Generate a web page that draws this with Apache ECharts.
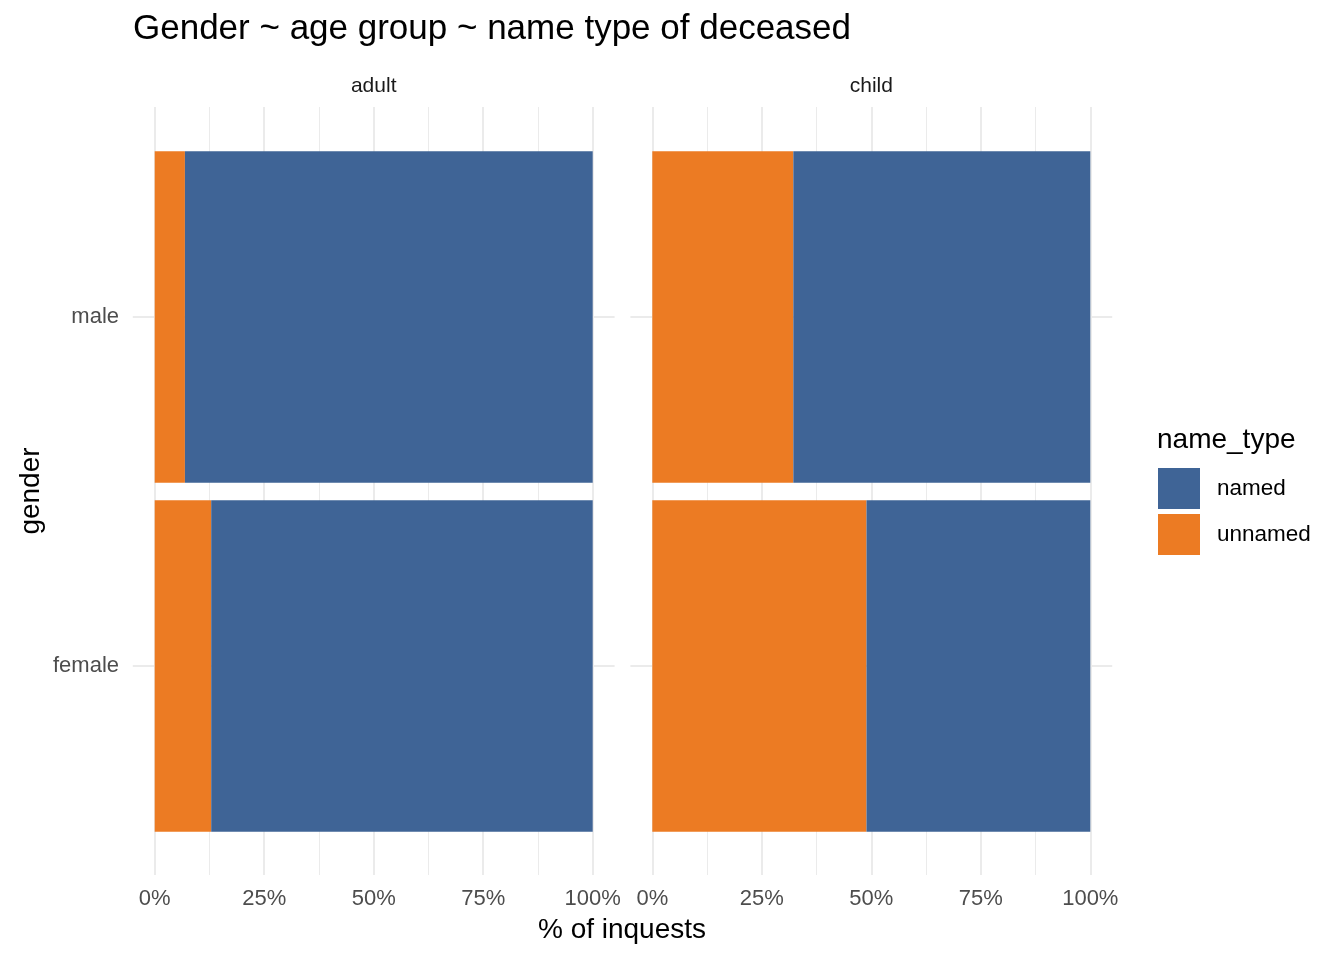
<!DOCTYPE html>
<html>
<head>
<meta charset="utf-8">
<script src="https://cdn.jsdelivr.net/npm/echarts@6/dist/echarts.min.js"></script>
<style>
  html, body { margin: 0; padding: 0; background: #fff; }
  #chart { width: 1344px; height: 960px; }
</style>
</head>
<body>
<div id="chart"></div>
<script>
// data (share of inquests)
const genders = ['female', 'male']
const panels = ['adult', 'child']
const adultUnnamed = [0.129, 0.069]
const adultNamed = [0.871, 0.931]
const childUnnamed = [0.489, 0.322]
const childNamed = [0.511, 0.678]
const xTicks = [0, 0.25, 0.5, 0.75, 1]

const FONT = '"Liberation Sans", Arial, sans-serif'
const BLUE = '#3f6496'
const ORANGE = '#ec7b23'
const GRID = '#ebebeb'

const panelLeft = [154.7, 652.3]
const panelWidth = 438
const expand = panelWidth * 0.05

const grids = []
const xAxes = []
const yAxes = []
const series = []

panels.forEach((p, i) => {
  const base = i * 3
  // bars
  grids.push({ left: panelLeft[i], width: panelWidth, top: 142.5, height: 698 })
  // vertical grid lines + x labels
  grids.push({ left: panelLeft[i], width: panelWidth, top: 107, height: 768 })
  // horizontal grid lines
  grids.push({ left: panelLeft[i] - expand, width: panelWidth + 2 * expand, top: 317, height: 349 })

  xAxes.push({ gridIndex: base, type: 'value', min: 0, max: 1, show: false })
  yAxes.push({
    gridIndex: base, type: 'category', data: genders,
    axisLine: { show: false }, axisTick: { show: false }, splitLine: { show: false },
    axisLabel: { show: i === 0, margin: 35.7, fontSize: 22, color: '#4d4d4d', fontFamily: FONT, padding: [5, 0, 0, 0] }
  })

  xAxes.push({
    gridIndex: base + 1, type: 'value', min: 0, max: 1, interval: 0.25,
    axisLine: { show: false }, axisTick: { show: false },
    splitLine: { show: true, lineStyle: { color: GRID, width: 2 } },
    minorTick: { show: false, splitNumber: 2 },
    minorSplitLine: { show: true, lineStyle: { color: GRID, width: 1 } },
    axisLabel: {
      margin: 13, fontSize: 22, color: '#4d4d4d', fontFamily: FONT,
      customValues: xTicks,
      formatter: v => Math.round(v * 100) + '%'
    }
  })
  yAxes.push({ gridIndex: base + 1, type: 'value', min: 0, max: 1, show: false })

  xAxes.push({ gridIndex: base + 2, type: 'value', min: 0, max: 1, show: false })
  yAxes.push({
    gridIndex: base + 2, type: 'value', min: 1, max: 2, interval: 1,
    axisLine: { show: false }, axisTick: { show: false }, axisLabel: { show: false },
    splitLine: { show: true, lineStyle: { color: GRID, width: 2 } }
  })

  const unnamed = i === 0 ? adultUnnamed : childUnnamed
  const named = i === 0 ? adultNamed : childNamed
  series.push({
    name: 'unnamed', type: 'bar', stack: p, xAxisIndex: base, yAxisIndex: base,
    data: unnamed, barWidth: '95%', itemStyle: { color: ORANGE }, z: 5
  })
  series.push({
    name: 'named', type: 'bar', stack: p, xAxisIndex: base, yAxisIndex: base,
    data: named, barWidth: '95%', itemStyle: { color: BLUE }, z: 5
  })
})

const myChart = echarts.init(document.getElementById('chart'))
myChart.setOption({
  animation: false,
  textStyle: { fontFamily: FONT },
  grid: grids,
  xAxis: xAxes,
  yAxis: yAxes,
  series: series,
  legend: {
    data: [{ name: 'named', icon: 'rect' }, { name: 'unnamed', icon: 'rect' }],
    orient: 'vertical',
    left: 1158,
    top: 468,
    padding: 0,
    itemWidth: 42,
    itemHeight: 41,
    itemGap: 5,
    selectedMode: false,
    textStyle: { fontSize: 22.5, color: '#000', fontFamily: FONT, padding: [3, 0, 0, 12] }
  },
  graphic: [
    { type: 'text', x: 133, y: 29, style: { text: 'Gender ~ age group ~ name type of deceased', font: '35px ' + FONT, fill: '#000', textVerticalAlign: 'middle' } },
    { type: 'text', x: panelLeft[0] + panelWidth / 2, y: 86, style: { text: panels[0], font: '21px ' + FONT, fill: '#1a1a1a', textAlign: 'center', textVerticalAlign: 'middle' } },
    { type: 'text', x: panelLeft[1] + panelWidth / 2, y: 86, style: { text: panels[1], font: '21px ' + FONT, fill: '#1a1a1a', textAlign: 'center', textVerticalAlign: 'middle' } },
    { type: 'text', x: 622, y: 930, style: { text: '% of inquests', font: '28px ' + FONT, fill: '#000', textAlign: 'center', textVerticalAlign: 'middle' } },
    { type: 'text', x: 31, y: 491, rotation: Math.PI / 2, style: { text: 'gender', font: '28px ' + FONT, fill: '#000', textAlign: 'center', textVerticalAlign: 'middle' } },
    { type: 'text', x: 1157, y: 440, style: { text: 'name_type', font: '28px ' + FONT, fill: '#000', textVerticalAlign: 'middle' } }
  ]
})
</script>
</body>
</html>
